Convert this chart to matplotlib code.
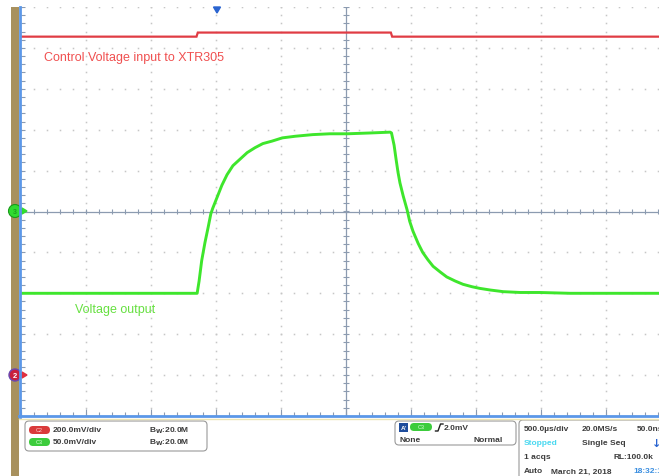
import numpy as np
import matplotlib
matplotlib.use('Agg')
import matplotlib.pyplot as plt
from matplotlib.patches import Rectangle, FancyBboxPatch, Circle, Polygon

plt.rcParams['font.family'] = ['Liberation Sans', 'DejaVu Sans']

# scope settings
US_PER_DIV = 500
GREEN_MV_DIV = 50
RED_MV_DIV = 200
RED_OFFSET_DIV = -4.0   # ground marker of C2, divisions below centre

# C3 - voltage output (time in us, value in mV)
t_green = [-2500, -1900, -1145, -1130, -1110, -1085, -1060, -1040, -1025, -990,
           -955, -915, -870, -815, -760, -700, -640, -570, -490, -390,
           -255, -125, 10, 185, 340, 350,
           370, 385, 400, 415, 440, 470, 490, 515, 555, 590,
           630, 670, 725, 775, 840, 900, 970, 1030, 1110, 1210,
           1340, 1490, 1725, 2100, 2500]
v_green = [-100, -100, -100, -85, -60, -38, -19, -3, 4, 18,
           32, 45, 56, 64, 72, 78, 83, 86, 90, 92,
           94, 95, 95, 96, 97, 96,
           81, 64, 48, 35, 19, 2, -12, -24, -39, -50,
           -59, -67, -74, -80, -85, -89, -92, -94, -96, -98,
           -99, -99, -100, -100, -100]

# C2 - control voltage (time in us, value in V)
t_red = [-2500, -1150, -1140, 345, 355, 2500]
v_red = [1.655, 1.655, 1.675, 1.675, 1.655, 1.655]

W, H = 659, 477
fig = plt.figure(figsize=(W / 100, H / 100), dpi=100)

# graticule: 10 x 10 divisions, partly cut off on the right
ax = fig.add_axes([21 / W, 1 - 417 / H, 650 / W, 409 / H])
ax.set_xlim(-5 * US_PER_DIV, 5 * US_PER_DIV)
ax.set_ylim(-5, 5)
ax.axis('off')

xs_minor = np.arange(-2500, 2501, 100)
ys_minor = np.arange(-5, 5.01, 0.2)
dot = dict(ls='none', marker='s', ms=1.1, color='#c6c6c6', mec='none')
for gx in range(-2000, 2501, 500):
    if gx == 0:
        continue
    ax.plot(np.full_like(ys_minor, gx), ys_minor, **dot)
for gy in range(-4, 6):
    if gy == 0:
        continue
    ax.plot(xs_minor, np.full_like(xs_minor, gy, dtype=float), **dot)

tick_c = '#8c9bb0'
ax.axhline(0, color=tick_c, lw=0.9)
ax.axvline(0, color=tick_c, lw=0.9)
ax.vlines(xs_minor, -0.07, 0.07, color=tick_c, lw=0.8)
ax.hlines(ys_minor, -25, 25, color=tick_c, lw=0.8)
# edge ticks
ax.hlines(ys_minor, -2500, -2470, color=tick_c, lw=0.8)
ax.vlines(xs_minor, -5, -4.9, color=tick_c, lw=0.8)
ax.vlines(np.arange(-2500, 2501, 500), -5, -4.82, color=tick_c, lw=0.8)

# traces
red_div = [v * 1000 / RED_MV_DIV + RED_OFFSET_DIV for v in v_red]
green_div = [v / GREEN_MV_DIV for v in v_green]
ax.plot(t_red, red_div, color='#e03c44', lw=1.6, solid_joinstyle='miter')
ax.plot(t_green, green_div, color='#3ee62c', lw=2.1, solid_joinstyle='round')

# overlay in pixel coordinates for labels, frame and status bar
ov = fig.add_axes([0, 0, 1, 1], zorder=5)
ov.set_xlim(0, W)
ov.set_ylim(H, 0)
ov.axis('off')

ov.text(44, 58, 'Control Voltage input to XTR305', color='#f05050', fontsize=9,
        va='center')
ov.text(75, 310, 'Voltage output', color='#66e040', fontsize=9, va='center')

ov.add_patch(Rectangle((11, 8), 7.5, 469, color='#a8915e', lw=0))
ov.plot([19.8, 19.8], [8, 418], color='#5b97e8', lw=2)
ov.plot([19, W], [417, 417], color='#5b97e8', lw=2)
ov.plot([19, W], [419.5, 419.5], color='#ece4b4', lw=1)

# channel markers
ov.add_patch(Circle((15, 212), 6.5, fc='#30dc30', ec='#1a9a1a', lw=0.8))
ov.add_patch(Polygon([(22, 209), (27, 212), (22, 215)], color='#30dc30'))
ov.text(15, 212.5, '3', color='#1f9f1f', fontsize=5, ha='center', va='center',
        fontweight='bold')
ov.add_patch(Circle((15, 376), 6, fc='#c8203c', ec='#6a48b0', lw=1))
ov.add_patch(Polygon([(22, 373), (27, 376), (22, 379)], color='#e03040'))
ov.text(15, 376.5, '2', color='white', fontsize=5.5, ha='center', va='center',
        fontweight='bold')

# trigger position marker
ov.add_patch(Polygon([(213.5, 8), (220.5, 8), (217, 14)], color='#2a64d0'))

box = dict(boxstyle='round,pad=0,rounding_size=4', fc='white', ec='#9a9a9a', lw=0.8)
ov.add_patch(FancyBboxPatch((25, 422), 182, 30, **box))
ov.add_patch(FancyBboxPatch((395, 422), 121, 24, **box))
ov.add_patch(FancyBboxPatch((519, 421), 170, 70, **box))

txt = dict(fontsize=6, fontweight='bold', color='#3c3c3c', va='center')
pill = dict(boxstyle='round,pad=0,rounding_size=4', lw=0)

ov.add_patch(FancyBboxPatch((29, 427), 21, 8, fc='#d93a3a', **pill))
ov.text(39.5, 431, 'C2', color='#ffd0d0', fontsize=4, ha='center', va='center')
ov.text(53, 431, '200.0mV/div', **txt)
ov.text(149, 431, r'B$_\mathbf{W}$:20.0M', **txt)

ov.add_patch(FancyBboxPatch((29, 439), 21, 8, fc='#3ccc3c', **pill))
ov.text(39.5, 443, 'C3', color='#d8ffd8', fontsize=4, ha='center', va='center')
ov.text(53, 443, '50.0mV/div', **txt)
ov.text(149, 443, r'B$_\mathbf{W}$:20.0M', **txt)

ov.add_patch(Rectangle((399, 424), 9, 9, color='#1e4c9c', lw=0))
ov.text(403.5, 428.8, "A'", color='white', fontsize=4.5, ha='center', va='center',
        fontweight='bold')
ov.add_patch(FancyBboxPatch((410, 424), 22, 8, fc='#3ccc3c', **pill))
ov.text(421, 428, 'C3', color='#d8ffd8', fontsize=4, ha='center', va='center')
ov.plot([435.5, 438, 440.5, 443], [432, 432, 425, 425], color='#202020', lw=1)
ov.text(444, 428.5, '2.0mV', **txt)
ov.text(399, 441, 'None', **txt)
ov.text(474, 441, 'Normal', **txt)

ov.text(524, 430, '500.0\u00b5s/div', **txt)
ov.text(582, 430, '20.0MS/s', **txt)
ov.text(637, 430, '50.0ns/pt', **txt)
ov.text(524, 444, 'Stopped', fontsize=6, fontweight='bold', color='#48d8f0', va='center')
ov.text(582, 444, 'Single Seq', **txt)
ov.text(652, 444, '\u2193', fontsize=8, fontweight='bold', color='#2a64d0', va='center',
        family='DejaVu Sans')
ov.text(524, 458, '1 acqs', **txt)
ov.text(613, 458, 'RL:100.0k', **txt)
ov.text(524, 472, 'Auto', **txt)
ov.text(551, 472, 'March 21, 2018', **txt)
ov.text(633, 472, '18:32:18', fontsize=6, fontweight='bold', color='#3a8ee0', va='center')

fig.savefig('out.png', dpi=100)
